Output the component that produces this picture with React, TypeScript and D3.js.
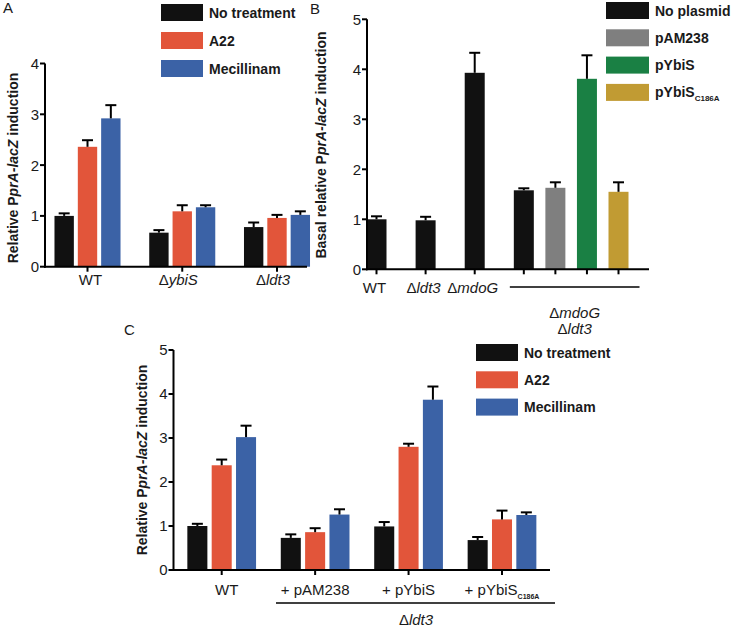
import React from "react";
import * as d3 from "d3";

// ---------- Panel A data ----------
const groupsA = ["WT", "ΔybiS", "Δldt3"];
const seriesA = ["No treatment", "A22", "Mecillinam"];
const noTreatA = [1.0, 0.67, 0.78];
const noTreatErrA = [0.05, 0.05, 0.09];
const a22A = [2.36, 1.09, 0.96];
const a22ErrA = [0.13, 0.12, 0.06];
const mecA = [2.92, 1.17, 1.02];
const mecErrA = [0.26, 0.04, 0.07];
const ticksA = [0, 1, 2, 3, 4];

// ---------- Panel B data ----------
const strainsB = ["WT", "Δldt3", "ΔmdoG", "ΔmdoG Δldt3", "ΔmdoG Δldt3", "ΔmdoG Δldt3", "ΔmdoG Δldt3"];
const plasmidsB = ["No plasmid", "No plasmid", "No plasmid", "No plasmid", "pAM238", "pYbiS", "pYbiS_C186A"];
const valuesB = [1.0, 0.98, 3.93, 1.58, 1.63, 3.81, 1.55];
const errB = [0.06, 0.07, 0.4, 0.04, 0.11, 0.47, 0.19];
const legendB = ["No plasmid", "pAM238", "pYbiS", "pYbiS_C186A"];
const ticksB = [0, 1, 2, 3, 4, 5];

// ---------- Panel C data ----------
const groupsC = ["WT", "+ pAM238", "+ pYbiS", "+ pYbiS_C186A"];
const seriesC = ["No treatment", "A22", "Mecillinam"];
const noTreatC = [1.0, 0.73, 0.99, 0.68];
const noTreatErrC = [0.05, 0.08, 0.1, 0.07];
const a22C = [2.38, 0.86, 2.8, 1.15];
const a22ErrC = [0.13, 0.09, 0.07, 0.2];
const mecC = [3.02, 1.26, 3.87, 1.25];
const mecErrC = [0.26, 0.12, 0.3, 0.06];
const ticksC = [0, 1, 2, 3, 4, 5];

const colors: Record<string, string> = {
  "No treatment": "#111111",
  A22: "#e2553a",
  Mecillinam: "#3b62a6",
  "No plasmid": "#111111",
  pAM238: "#7f7f7f",
  pYbiS: "#1a8044",
  pYbiS_C186A: "#c19b33",
};

const FONT = "'Liberation Sans', Arial, Helvetica, sans-serif";
const INK = "#1a1a1a";
const LBL = 15;

function parts(t: string, subSize = 8) {
  if (t.startsWith("Δ")) {
    return [
      <tspan key="d">Δ</tspan>,
      <tspan key="r" fontStyle="italic">{t.slice(1)}</tspan>,
    ];
  }
  if (t.includes("_")) {
    const [main, sub] = t.split("_");
    return [
      <tspan key="m">{main}</tspan>,
      <tspan key="s" fontSize={subSize} fontWeight="bold" dy={4}>{sub}</tspan>,
    ];
  }
  return [<tspan key="t">{t}</tspan>];
}

function YAxis({ y, ticks, x, x2 }: { y: d3.ScaleLinear<number, number>; ticks: number[]; x: number; x2: number }) {
  const [r0] = y.range();
  const top = y(ticks[ticks.length - 1]);
  return (
    <g>
      <line x1={x} x2={x} y1={top} y2={r0 + 1} stroke="#000" strokeWidth={2} />
      <line x1={x - 1} x2={x2} y1={r0} y2={r0} stroke="#000" strokeWidth={2} />
      {ticks.map((t) => (
        <g key={t}>
          <line x1={x - 5} x2={x} y1={y(t)} y2={y(t)} stroke="#000" strokeWidth={2} />
          <text x={x - 6} y={y(t)} dy="0.36em" textAnchor="end" fontSize={LBL} fill={INK}>
            {t}
          </text>
        </g>
      ))}
    </g>
  );
}

function ErrBar({ cx, yv, ye }: { cx: number; yv: number; ye: number }) {
  return (
    <g stroke="#000" strokeWidth={2}>
      <line x1={cx} x2={cx} y1={yv} y2={ye} />
      <line x1={cx - 5.5} x2={cx + 5.5} y1={ye} y2={ye} />
    </g>
  );
}

function YTitle({ x, y, prefix }: { x: number; y: number; prefix: string }) {
  return (
    <text
      transform={`translate(${x},${y}) rotate(-90)`}
      textAnchor="middle"
      dy="0.36em"
      fontSize={14}
      fontWeight="bold"
      fill={INK}
    >
      {prefix}P<tspan fontStyle="italic">prA-lacZ</tspan> induction
    </text>
  );
}

function Legend({ items, x, y, w, h, step }: { items: string[]; x: number; y: number; w: number; h: number; step: number }) {
  return (
    <g>
      {items.map((s, i) => (
        <g key={s}>
          <rect x={x} y={y + i * step} width={w} height={h} fill={colors[s]} />
          <text x={x + w + 6} y={y + i * step + h / 2} dy="0.36em" fontSize={14} fontWeight="bold" fill={INK}>
            {parts(s, 8)}
          </text>
        </g>
      ))}
    </g>
  );
}

function GroupedPanel({
  groups, series, vals, errs, x, y, inner, axisX, axisEnd, ticks,
}: any) {
  const y0 = y.range()[0];
  return (
    <g>
      {series.map((s: string, si: number) =>
        groups.map((g: string, gi: number) => {
          const left = x(g) + inner(s);
          const cx = left + inner.bandwidth() / 2;
          const v = vals[si][gi];
          const e = errs[si][gi];
          return (
            <g key={s + g}>
              <rect x={left} y={y(v)} width={inner.bandwidth()} height={y0 - y(v)} fill={colors[s]} />
              <ErrBar cx={cx} yv={y(v)} ye={y(v + e)} />
            </g>
          );
        })
      )}
      <YAxis y={y} ticks={ticks} x={axisX} x2={axisEnd} />
      {groups.map((g: string) => (
        <line key={"t" + g} x1={x(g)} x2={x(g)} y1={y0} y2={y0 + 5} stroke="#000" strokeWidth={2} />
      ))}
    </g>
  );
}

export default function App() {
  // ---------- Panel A scales ----------
  const yA = d3.scaleLinear().domain([0, 4]).range([266.7, 63.5]);
  const xA = d3.scalePoint<string>().domain(groupsA).range([87.5, 277]);
  const innerA = d3.scaleBand<string>().domain(seriesA).range([-35, 35]).paddingInner(0.17).paddingOuter(0.085);

  // ---------- Panel B scales ----------
  const yB = d3.scaleLinear().domain([0, 5]).range([269.3, 19.3]);
  const strainOrder = Array.from(new Set(strainsB));
  const GAP = 0.556;
  const posB = strainsB.map((s, i) => i + strainOrder.indexOf(s) * GAP);
  const xB = d3.scaleLinear().domain([0, d3.max(posB)!]).range([376.5, 618.5]);
  const bwB = 20;

  // ---------- Panel C scales ----------
  const yC = d3.scaleLinear().domain([0, 5]).range([570, 350]);
  const xC = d3.scalePoint<string>().domain(groupsC).range([221.7, 502]);
  const innerC = d3.scaleBand<string>().domain(seriesC).range([-36.5, 36.5]).paddingInner(0.177).paddingOuter(0.088);

  const groupStrain = strainOrder[strainOrder.length - 1];
  const groupIdx = strainsB.map((s, i) => (s === groupStrain ? i : -1)).filter((i) => i >= 0);
  const gx1 = xB(posB[groupIdx[0]]) - 14;
  const gx2 = xB(posB[groupIdx[groupIdx.length - 1]]) + 21;
  const gcx = (gx1 + gx2) / 2;

  return (
    <svg
      width={733}
      height={627}
      viewBox="0 0 733 627"
      style={{ position: "absolute", left: 0, top: 0, background: "#fff" }}
      fontFamily={FONT}
    >
      <rect width={733} height={627} fill="#fff" />

      {/* Panel letters */}
      <text x={3} y={13} fontSize={15} fill={INK}>A</text>
      <text x={310} y={14} fontSize={15} fill={INK}>B</text>
      <text x={124} y={335} fontSize={15} fill={INK}>C</text>

      {/* ---------- Panel A ---------- */}
      <GroupedPanel
        groups={groupsA}
        series={seriesA}
        vals={[noTreatA, a22A, mecA]}
        errs={[noTreatErrA, a22ErrA, mecErrA]}
        x={xA}
        y={yA}
        inner={innerA}
        axisX={45}
        axisEnd={307}
        ticks={ticksA}
      />
      {groupsA.map((g) => (
        <text key={g} x={xA(g)! + (g === "WT" ? 3 : -4)} y={285} textAnchor="middle" fontSize={LBL} fill={INK}>
          {parts(g)}
        </text>
      ))}
      <YTitle x={13} y={168} prefix="Relative " />
      <Legend items={seriesA} x={161} y={4} w={42} h={17} step={28} />

      {/* ---------- Panel B ---------- */}
      {valuesB.map((v, i) => {
        const cx = xB(posB[i]);
        return (
          <g key={"b" + i}>
            <rect x={cx - bwB / 2} y={yB(v)} width={bwB} height={yB(0) - yB(v)} fill={colors[plasmidsB[i]]} />
            <ErrBar cx={cx} yv={yB(v)} ye={yB(v + errB[i])} />
            <line x1={cx} x2={cx} y1={yB(0)} y2={yB(0) + 5} stroke="#000" strokeWidth={2} />
          </g>
        );
      })}
      <YAxis y={yB} ticks={ticksB} x={367} x2={649} />
      {strainsB.map((s, i) =>
        s === groupStrain ? null : (
          <text key={"bl" + i} x={xB(posB[i]) - 2} y={293} textAnchor="middle" fontSize={LBL} fill={INK}>
            {parts(s)}
          </text>
        )
      )}
      <line x1={gx1} x2={gx2} y1={287} y2={287} stroke="#000" strokeWidth={1.5} />
      {groupStrain.split(" ").map((s, k) => (
        <text key={"bg" + k} x={gcx} y={318 + k * 16} textAnchor="middle" fontSize={LBL} fill={INK}>
          {parts(s)}
        </text>
      ))}
      <YTitle x={321} y={145} prefix="Basal relative " />
      <Legend items={legendB} x={606} y={2} w={43} h={17} step={27.3} />

      {/* ---------- Panel C ---------- */}
      <GroupedPanel
        groups={groupsC}
        series={seriesC}
        vals={[noTreatC, a22C, mecC]}
        errs={[noTreatErrC, a22ErrC, mecErrC]}
        x={xC}
        y={yC}
        inner={innerC}
        axisX={173.5}
        axisEnd={550}
        ticks={ticksC}
      />
      {groupsC.map((g) => (
        <text key={g} x={xC(g)! + (g === "WT" ? 5 : 0)} y={595} textAnchor="middle" fontSize={LBL} fill={INK}>
          {parts(g, 7)}
        </text>
      ))}
      <line x1={276} x2={555} y1={603} y2={603} stroke="#000" strokeWidth={1.5} />
      <text x={416} y={625} textAnchor="middle" fontSize={LBL} fill={INK}>
        {parts("Δldt3")}
      </text>
      <YTitle x={142} y={460} prefix="Relative " />
      <Legend items={seriesC} x={476} y={344} w={42} h={17} step={27.3} />
    </svg>
  );
}
